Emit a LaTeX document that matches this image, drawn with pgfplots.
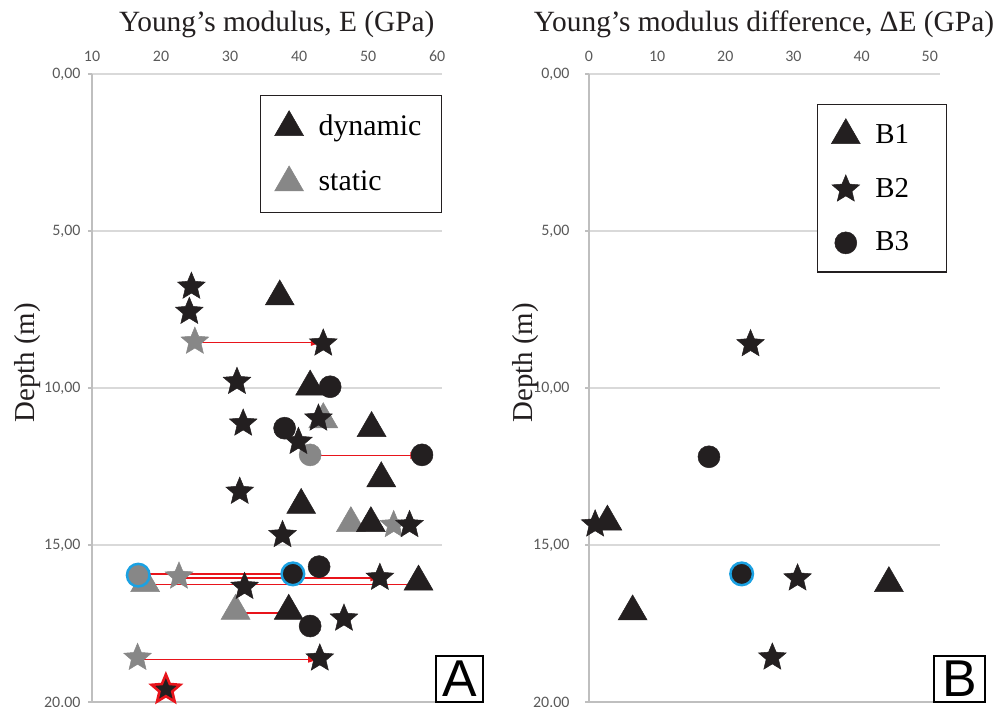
\documentclass[border=0pt]{standalone}
\usepackage{pgfplots}
\pgfplotsset{compat=1.18}
\usepackage{fontspec}
\setmainfont{Liberation Serif}
\newfontfamily\carlito{Carlito}
\newfontfamily\arialf{Liberation Sans}
\usetikzlibrary{arrows.meta}

\definecolor{mk}{HTML}{231F20}
\definecolor{gm}{HTML}{878787}
\definecolor{ar}{HTML}{E8141B}
\definecolor{bl}{HTML}{1BA1E2}
\definecolor{gl}{HTML}{D9D9D9}
\definecolor{al}{HTML}{BFBFBF}
\definecolor{tl}{HTML}{595959}

\pgfdeclareplotmark{fstar}{%
  \pgfpathmoveto{\pgfpointpolar{90}{\pgfplotmarksize}}%
  \pgfpathlineto{\pgfpointpolar{126}{0.45\pgfplotmarksize}}%
  \pgfpathlineto{\pgfpointpolar{162}{\pgfplotmarksize}}%
  \pgfpathlineto{\pgfpointpolar{198}{0.45\pgfplotmarksize}}%
  \pgfpathlineto{\pgfpointpolar{234}{\pgfplotmarksize}}%
  \pgfpathlineto{\pgfpointpolar{270}{0.45\pgfplotmarksize}}%
  \pgfpathlineto{\pgfpointpolar{306}{\pgfplotmarksize}}%
  \pgfpathlineto{\pgfpointpolar{342}{0.45\pgfplotmarksize}}%
  \pgfpathlineto{\pgfpointpolar{18}{\pgfplotmarksize}}%
  \pgfpathlineto{\pgfpointpolar{54}{0.45\pgfplotmarksize}}%
  \pgfpathclose
  \pgfusepathqfillstroke
}

\pgfplotsset{
  base/.style={
    scale only axis, height=628bp,
    ymin=0, ymax=20, y dir=reverse,
    axis line style={draw=none},
    xticklabel pos=upper, ytick pos=left,
    /pgf/number format/assume math mode=true,
    ytick={0,5,10,15,20}, yticklabels={{0,00},{5,00},{10,00},{15,00},{20.00}},
    ymajorgrids, grid style={draw=gl, line width=1.5bp},
    tick align=outside, major tick length=4bp,
    xtick style={draw=none}, ytick style={draw=al, line width=1.5bp},
    tick label style={font=\carlito\fontsize{16}{18}\selectfont, text=tl},
    xticklabel style={yshift=5bp},
    clip=false,
    label style={font=\fontsize{29}{32}\selectfont, text=mk},
    title style={font=\fontsize{29.5}{32}\selectfont, text=mk, anchor=base},
    legend image code/.code={\draw[##1] plot coordinates {(0bp,8bp)};},
  },
  dtri/.style={only marks, mark=triangle*, mark size=16.7bp, mark options={fill=mk, draw=mk, line width=0.5bp}},
  dstar/.style={only marks, mark=fstar, mark size=14.5bp, mark options={fill=mk, draw=mk, line width=0.5bp}},
  dcirc/.style={only marks, mark=*, mark size=11bp, mark options={fill=mk, draw=mk, line width=0.5bp}},
  stri/.style={only marks, mark=triangle*, mark size=16.7bp, mark options={fill=gm, draw=gm, line width=0.5bp}},
  sstar/.style={only marks, mark=fstar, mark size=14.5bp, mark options={fill=gm, draw=gm, line width=0.5bp}},
  scirc/.style={only marks, mark=*, mark size=11bp, mark options={fill=gm, draw=gm, line width=0.5bp}},
  arr/.style={forget plot, no markers, draw=ar, line width=1.5bp, -{Latex[length=13bp,width=7bp]}},
}

\begin{document}
\begin{tikzpicture}
\useasboundingbox (0,0) rectangle (998bp,707bp);

% ---------------- Panel A ----------------
\begin{axis}[base, at={(92bp,5bp)}, anchor=south west, width=350bp,
  xmin=10, xmax=60.7, xtick={10,20,30,40,50,60},
  yticklabel style={xshift=-4bp},
  title={Young’s modulus, E (GPa)},
  title style={at={(axis description cs:0.528,1.058)}},
  ylabel={Depth (m)},
  ylabel style={at={(axis description cs:-0.183,0.54)}, anchor=center},
  legend style={at={(axis description cs:0.48,0.9666)}, anchor=north west,
    draw=mk, line width=1.3bp, inner xsep=14bp, inner ysep=15bp,
    row sep=23.6bp, column sep=15bp,
    font=\fontsize{30}{32}\selectfont,
    cells={anchor=base west},
    nodes={inner sep=0pt, text width=109bp, align=left, text height=22bp, text depth=7bp}},
]
\draw[draw=al, line width=1.5bp] (rel axis cs:0,1) -- (rel axis cs:0,0) -- (rel axis cs:1,0);
\addlegendimage{dtri}\addlegendentry{dynamic}
\addlegendimage{stri}\addlegendentry{static}

% static (grey)
\addplot[stri, forget plot] coordinates {(43.5,11.0) (47.5,14.31) (17.7,16.22) (30.8,17.1)};
\addplot[sstar, forget plot] coordinates {(24.9,8.52) (53.7,14.36) (22.6,16.0) (16.6,18.59)};
\addplot[scirc, forget plot] coordinates {(41.6,12.13)};
\addplot[scirc, forget plot, mark options={fill=gm, draw=bl, line width=2.5bp}, mark size=11.3bp] coordinates {(16.7,15.96)};

% dynamic (black)
\addplot[dtri, forget plot] coordinates {(37.2,7.09) (41.6,9.96) (50.5,11.28) (51.9,12.88) (40.3,13.73) (50.4,14.31) (57.3,16.17) (38.5,17.1)};
\addplot[dstar, forget plot] coordinates {(24.4,6.77) (24.1,7.57) (43.5,8.58) (31.0,9.8) (31.9,11.13) (42.8,10.97) (39.9,11.71) (31.4,13.3) (56.0,14.36) (37.6,14.68) (32.1,16.33) (51.7,16.04) (46.5,17.34) (43.0,18.61)};
\addplot[dcirc, forget plot] coordinates {(44.5,9.96) (37.9,11.28) (57.8,12.13) (42.9,15.69) (41.6,17.58)};
\addplot[dcirc, forget plot, mark options={fill=mk, draw=bl, line width=2.5bp}, mark size=11.3bp] coordinates {(39.1,15.92)};
\addplot[dstar, forget plot, mark options={fill=mk, draw=ar, line width=2.6bp}, mark size=15bp] coordinates {(20.7,19.6)};

% arrows static -> dynamic
\addplot[arr] coordinates {(24.9,8.55) (43.6,8.55)};
\addplot[arr] coordinates {(41.6,12.15) (58.0,12.15)};
\addplot[arr] coordinates {(47.4,14.33) (51.2,14.33)};
\addplot[arr] coordinates {(53.2,14.36) (57.2,14.36)};
\addplot[arr] coordinates {(16.4,15.92) (39.6,15.92)};
\addplot[arr] coordinates {(22.6,16.05) (52.2,16.05)};
\addplot[arr] coordinates {(17.5,16.25) (58.0,16.25)};
\addplot[arr] coordinates {(30.8,17.17) (39.4,17.17)};
\addplot[arr] coordinates {(16.4,18.64) (43.2,18.64)};

\node[draw=black, line width=1.6bp, fill=white, minimum width=47bp, minimum height=46bp, inner sep=0pt,
  font=\arialf\fontsize{52}{52}\selectfont] at (axis description cs:1.05,0.0366) {A};
\end{axis}

% ---------------- Panel B ----------------
\begin{axis}[base, at={(589bp,5bp)}, anchor=south west, width=351bp,
  xmin=0, xmax=51.5, xtick={0,10,20,30,40,50},
  yticklabel style={xshift=-12bp},
  title={Young’s modulus difference, ΔE (GPa)},
  title style={at={(axis description cs:0.4986,1.058)}},
  ylabel={Depth (m)},
  ylabel style={at={(axis description cs:-0.182,0.54)}, anchor=center},
  legend style={at={(axis description cs:0.6487,0.9522)}, anchor=north west,
    draw=mk, line width=1.3bp, inner xsep=14bp, inner ysep=14bp,
    row sep=24.5bp, column sep=15bp,
    font=\fontsize{29}{32}\selectfont,
    cells={anchor=base west},
    nodes={inner sep=0pt, text width=57bp, align=left, text height=22bp, text depth=7bp}},
]
\draw[draw=al, line width=1.5bp] (rel axis cs:0,1) -- (rel axis cs:0,0) -- (rel axis cs:1,0);
\addlegendimage{dtri}\addlegendentry{B1}
\addlegendimage{dstar}\addlegendentry{B2}
\addlegendimage{dcirc}\addlegendentry{B3}

\addplot[dstar, forget plot] coordinates {(23.7,8.6) (0.9,14.34) (30.6,16.06) (26.9,18.58)};
\addplot[dtri, forget plot] coordinates {(2.7,14.26) (44.0,16.22) (6.4,17.12)};
\addplot[dcirc, forget plot] coordinates {(17.6,12.19)};
\addplot[dcirc, forget plot, mark options={fill=mk, draw=bl, line width=2.5bp}, mark size=11.3bp] coordinates {(22.4,15.92)};

\node[draw=black, line width=1.6bp, fill=white, minimum width=51bp, minimum height=46bp, inner sep=0pt,
  font=\arialf\fontsize{52}{52}\selectfont] at (axis description cs:1.0556,0.0366) {B};
\end{axis}
\end{tikzpicture}
\end{document}
